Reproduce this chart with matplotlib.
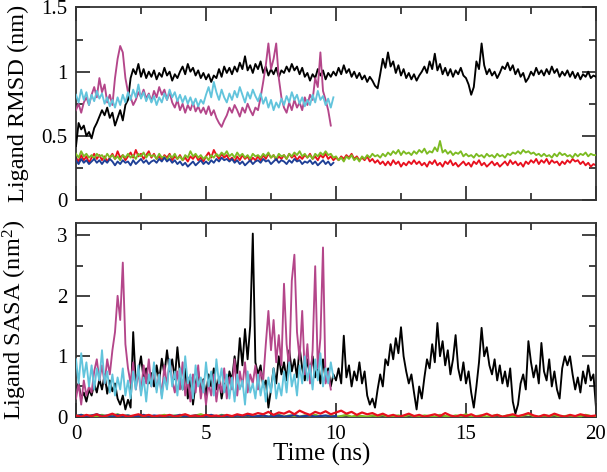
import numpy as np
import matplotlib
matplotlib.use("Agg")
import matplotlib.pyplot as plt
from matplotlib.ticker import MultipleLocator, FixedLocator, FixedFormatter

plt.rcParams['font.family'] = ['Liberation Serif', 'DejaVu Serif']
plt.rcParams['mathtext.fontset'] = 'custom'
plt.rcParams['mathtext.rm'] = 'Liberation Serif'
plt.rcParams['mathtext.it'] = 'Liberation Serif:italic'
plt.rcParams['mathtext.bf'] = 'Liberation Serif:bold'

# ---------------- data ----------------
T_STEP = 0.1        # ns between samples for the main traces
T_STEP_LOW = 0.2    # ns between samples for the near-zero SASA traces

rmsd_black = [
    0.42, 0.60, 0.55, 0.58, 0.50, 0.53, 0.48, 0.56, 0.60, 0.65,
    0.70, 0.66, 0.72, 0.64, 0.68, 0.58, 0.64, 0.70, 0.62, 0.74,
    0.78, 0.95, 1.02, 0.98, 1.06, 0.96, 1.02, 0.95, 1.00, 0.96,
    1.01, 0.94, 0.99, 0.96, 1.03, 0.97, 1.00, 0.93, 0.98, 0.95,
    1.00, 1.04, 0.98, 1.06, 1.00, 1.03, 0.97, 1.01, 0.95, 0.99,
    0.94, 0.98, 0.92, 0.97, 0.95, 1.02, 0.96, 1.04, 0.99, 1.03,
    0.98, 1.04, 1.00, 1.07, 1.02, 1.12, 1.01, 1.05, 0.99, 1.06,
    1.02, 1.08, 0.99, 1.04, 0.97, 1.02, 0.98, 1.03, 0.96, 1.01,
    0.99, 1.04, 1.00, 1.06, 1.01, 1.04, 0.98, 1.03, 0.96, 0.99,
    0.93, 0.98, 0.95, 1.02, 0.97, 1.01, 0.94, 0.99, 0.96, 1.00,
    0.97, 1.03, 0.98, 1.05, 0.99, 1.02, 0.96, 1.00, 0.95, 0.99,
    0.94, 0.97, 0.92, 0.96, 0.93, 0.89, 0.87, 0.98, 1.10, 1.03,
    1.15, 1.04, 1.08, 0.99, 1.05, 0.97, 1.02, 0.95, 0.99, 0.94,
    0.98, 0.93, 0.97, 1.00, 1.04, 0.99, 1.08, 1.02, 1.14, 1.01,
    1.06, 0.98, 1.03, 0.97, 1.02, 0.96, 1.01, 0.98, 1.03, 0.97,
    0.95, 0.90, 0.82, 0.88, 1.08, 1.02, 1.22, 1.05, 0.98, 1.02,
    0.97, 1.00, 0.95, 0.99, 1.04, 1.02, 1.07, 1.01, 1.05, 0.98,
    1.02, 0.96, 0.99, 0.92, 0.95, 1.00, 0.97, 1.03, 0.98, 1.01,
    0.97, 1.02, 0.98, 1.04, 0.99, 1.02, 0.96, 1.00, 0.97, 1.01,
    0.96, 1.00, 0.95, 0.99, 0.94, 0.98, 0.96, 1.00, 0.95, 0.97,
    0.96,
]

rmsd_magenta = [
    0.70, 0.75, 0.68, 0.76, 0.80, 0.74, 0.82, 0.88, 0.80, 0.95,
    0.84, 0.90, 0.76, 0.82, 0.74, 0.95, 1.10, 1.20, 1.15, 0.95,
    0.84, 0.80, 0.74, 0.78, 0.84, 0.80, 0.86, 0.79, 0.83, 0.77,
    0.85, 0.80, 0.88, 0.82, 0.86, 0.78, 0.84, 0.76, 0.72, 0.78,
    0.70, 0.75, 0.68, 0.74, 0.70, 0.76, 0.69, 0.73, 0.68, 0.72,
    0.67, 0.73, 0.66, 0.70, 0.64, 0.60, 0.57, 0.62, 0.66, 0.72,
    0.68, 0.74, 0.70, 0.65, 0.72, 0.68, 0.75, 0.70, 0.66, 0.72,
    0.70, 0.80, 0.92, 1.05, 1.22, 1.02, 1.10, 1.22, 0.95, 0.80,
    0.72, 0.68, 0.76, 0.70, 0.78, 0.72, 0.76, 0.70, 0.80, 0.74,
    0.82, 0.78, 0.95, 0.88, 1.15, 0.85, 0.78, 0.70, 0.58,
]

rmsd_cyan = [
    0.82, 0.76, 0.86, 0.78, 0.84, 0.74, 0.82, 0.77, 0.85, 0.79,
    0.83, 0.75, 0.80, 0.73, 0.78, 0.72, 0.80, 0.74, 0.82, 0.76,
    0.84, 0.78, 0.86, 0.80, 0.90, 0.79, 0.84, 0.77, 0.82, 0.76,
    0.81, 0.74, 0.80, 0.76, 0.83, 0.78, 0.86, 0.80, 0.84, 0.77,
    0.82, 0.76, 0.81, 0.75, 0.80, 0.74, 0.79, 0.73, 0.78, 0.75,
    0.82, 0.88, 0.80, 0.92, 0.84, 0.78, 0.86, 0.80, 0.76, 0.83,
    0.78, 0.85, 0.80, 0.88, 0.82, 0.76, 0.84, 0.79, 0.86, 0.81,
    0.77, 0.83, 0.75, 0.80, 0.72, 0.78, 0.70, 0.76, 0.72, 0.79,
    0.74, 0.81, 0.76, 0.84, 0.78, 0.82, 0.75, 0.80, 0.73, 0.78,
    0.74, 0.82, 0.76, 0.85, 0.78, 0.81, 0.74, 0.79, 0.72, 0.80,
]

rmsd_red = [
    0.33, 0.30, 0.35, 0.31, 0.34, 0.29, 0.33, 0.36, 0.32, 0.35,
    0.31, 0.34, 0.30, 0.33, 0.36, 0.32, 0.38, 0.33, 0.35, 0.31,
    0.34, 0.37, 0.33, 0.39, 0.34, 0.36, 0.32, 0.35, 0.38, 0.33,
    0.36, 0.32, 0.34, 0.31, 0.35, 0.33, 0.36, 0.31, 0.34, 0.32,
    0.35, 0.31, 0.33, 0.30, 0.34, 0.32, 0.35, 0.31, 0.33, 0.30,
    0.34, 0.37, 0.33, 0.39, 0.35, 0.32, 0.36, 0.33, 0.35, 0.31,
    0.33, 0.30, 0.34, 0.31, 0.35, 0.32, 0.34, 0.30, 0.33, 0.31,
    0.34, 0.31, 0.35, 0.32, 0.36, 0.33, 0.35, 0.31, 0.34, 0.32,
    0.35, 0.32, 0.36, 0.33, 0.35, 0.31, 0.34, 0.32, 0.35, 0.33,
    0.36, 0.32, 0.34, 0.31, 0.35, 0.33, 0.36, 0.32, 0.34, 0.31,
    0.33, 0.31, 0.34, 0.32, 0.35, 0.33, 0.36, 0.32, 0.34, 0.31,
    0.33, 0.31, 0.34, 0.30, 0.32, 0.29, 0.31, 0.28, 0.30, 0.27,
    0.30, 0.27, 0.31, 0.28, 0.30, 0.26, 0.29, 0.27, 0.30, 0.28,
    0.31, 0.28, 0.30, 0.27, 0.29, 0.26, 0.30, 0.28, 0.31, 0.27,
    0.29, 0.26, 0.30, 0.28, 0.31, 0.27, 0.29, 0.26, 0.28, 0.30,
    0.27, 0.29, 0.26, 0.30, 0.28, 0.31, 0.27, 0.29, 0.26, 0.28,
    0.30, 0.27, 0.29, 0.26, 0.28, 0.30, 0.27, 0.31, 0.28, 0.30,
    0.27, 0.29, 0.26, 0.30, 0.28, 0.31, 0.29, 0.32, 0.28, 0.31,
    0.29, 0.32, 0.28, 0.31, 0.29, 0.30, 0.27, 0.30, 0.28, 0.31,
    0.29, 0.32, 0.30, 0.31, 0.28, 0.30, 0.27, 0.29, 0.26, 0.28,
    0.27,
]

rmsd_green = [
    0.36, 0.33, 0.38, 0.34, 0.36, 0.33, 0.35, 0.32, 0.36, 0.34,
    0.35, 0.32, 0.36, 0.33, 0.35, 0.32, 0.34, 0.31, 0.35, 0.33,
    0.36, 0.33, 0.35, 0.32, 0.36, 0.34, 0.37, 0.33, 0.36, 0.34,
    0.35, 0.32, 0.36, 0.33, 0.34, 0.31, 0.35, 0.33, 0.36, 0.32,
    0.34, 0.31, 0.35, 0.33, 0.38, 0.34, 0.36, 0.33, 0.35, 0.32,
    0.34, 0.31, 0.35, 0.33, 0.36, 0.34, 0.37, 0.35, 0.38, 0.34,
    0.36, 0.33, 0.37, 0.34, 0.36, 0.33, 0.35, 0.32, 0.36, 0.34,
    0.35, 0.33, 0.36, 0.34, 0.37, 0.33, 0.35, 0.32, 0.36, 0.34,
    0.35, 0.32, 0.36, 0.34, 0.37, 0.35, 0.38, 0.34, 0.36, 0.33,
    0.35, 0.32, 0.36, 0.34, 0.37, 0.35, 0.38, 0.35, 0.36, 0.33,
    0.34, 0.31, 0.33, 0.30, 0.34, 0.32, 0.35, 0.31, 0.33, 0.30,
    0.34, 0.32, 0.35, 0.33, 0.36, 0.34, 0.35, 0.33, 0.36, 0.34,
    0.37, 0.35, 0.38, 0.36, 0.39, 0.35, 0.38, 0.36, 0.37, 0.35,
    0.38, 0.36, 0.39, 0.37, 0.40, 0.36, 0.38, 0.37, 0.41, 0.38,
    0.46, 0.37, 0.39, 0.36, 0.38, 0.35, 0.37, 0.36, 0.38, 0.34,
    0.36, 0.34, 0.35, 0.33, 0.36, 0.34, 0.35, 0.33, 0.36, 0.34,
    0.35, 0.33, 0.36, 0.34, 0.35, 0.33, 0.36, 0.35, 0.37, 0.36,
    0.38, 0.36, 0.39, 0.37, 0.38, 0.36, 0.37, 0.35, 0.36, 0.34,
    0.36, 0.34, 0.35, 0.33, 0.36, 0.34, 0.37, 0.35, 0.36, 0.34,
    0.35, 0.33, 0.36, 0.34, 0.36, 0.35, 0.37, 0.34, 0.36, 0.35,
    0.35,
]

rmsd_blue = [
    0.31, 0.28, 0.32, 0.29, 0.31, 0.28, 0.30, 0.32, 0.29, 0.31,
    0.28, 0.31, 0.29, 0.32, 0.30, 0.27, 0.30, 0.28, 0.31, 0.29,
    0.30, 0.27, 0.31, 0.28, 0.30, 0.32, 0.29, 0.31, 0.28, 0.30,
    0.31, 0.29, 0.32, 0.30, 0.33, 0.30, 0.32, 0.29, 0.31, 0.28,
    0.30, 0.27, 0.29, 0.26, 0.28, 0.30, 0.27, 0.29, 0.31, 0.28,
    0.30, 0.28, 0.31, 0.29, 0.32, 0.30, 0.33, 0.31, 0.32, 0.30,
    0.32, 0.29, 0.31, 0.28, 0.30, 0.27, 0.29, 0.31, 0.28, 0.30,
    0.31, 0.29, 0.32, 0.30, 0.31, 0.28, 0.30, 0.32, 0.29, 0.31,
    0.30, 0.28, 0.31, 0.29, 0.32, 0.30, 0.31, 0.28, 0.30, 0.29,
    0.31, 0.28, 0.30, 0.27, 0.29, 0.31, 0.28, 0.30, 0.27, 0.29,
]

sasa_black = [
    0.48, 0.55, 0.30, 0.40, 0.25, 0.45, 0.35, 0.55, 0.40, 0.62,
    0.45, 0.70, 0.38, 0.60, 0.42, 0.55, 0.30, 0.20, 0.35, 0.12,
    0.28, 0.15, 1.40, 0.55, 0.75, 1.00, 0.62, 0.80, 0.55, 0.72,
    0.50, 0.85, 0.60, 0.96, 0.70, 1.10, 0.75, 0.95, 0.62, 1.15,
    0.70, 0.45, 0.80, 0.30, 0.65, 0.20, 0.55, 0.75, 0.40, 0.62,
    0.35, 0.70, 0.50, 0.80, 0.45, 0.65, 0.30, 0.55, 0.40, 0.75,
    0.60, 1.00, 0.70, 1.30, 0.85, 1.45, 0.95, 1.50, 3.03, 0.90,
    0.70, 0.85, 0.50, 0.60, 0.15, 0.45, 0.80, 0.55, 1.00, 0.70,
    0.90, 0.60, 1.10, 0.75, 0.95, 0.65, 1.15, 0.80, 0.60, 0.95,
    0.70, 1.00, 0.65, 0.85, 0.55, 0.95, 0.60, 0.80, 0.50, 0.70,
    0.60, 0.80, 0.55, 1.34, 0.65, 0.85, 0.50, 0.75, 0.60, 0.90,
    0.55, 0.75, 0.35, 0.20, 0.30, 0.15, 0.45, 0.70, 0.50, 0.95,
    0.85, 1.20, 0.95, 1.30, 1.05, 1.48, 1.00, 0.75, 0.55, 0.70,
    0.40, 0.12, 0.50, 0.30, 0.65, 0.95, 0.80, 1.20, 0.90, 1.55,
    1.00, 1.25, 0.85, 1.10, 0.70, 0.95, 1.35, 0.80, 0.60, 0.90,
    0.55, 0.75, 0.40, 0.15, 0.50, 0.90, 1.47, 1.00, 1.15, 0.85,
    0.70, 0.95, 0.60, 0.85, 0.55, 0.75, 0.50, 0.80, 0.25, 0.05,
    0.20, 0.55, 0.70, 0.45, 1.25, 0.90, 0.65, 0.85, 0.55, 1.22,
    0.75, 0.60, 0.95, 0.50, 0.75, 0.45, 0.30, 0.80, 1.00, 0.85,
    1.00, 0.70, 0.45, 0.65, 0.40, 0.75, 0.55, 0.85, 0.60, 0.70,
    0.15,
]

sasa_magenta = [
    0.30, 0.55, 0.20, 0.60, 0.35, 0.50, 0.40, 0.75, 0.95, 0.60,
    0.85, 0.55, 0.95, 0.70, 1.10, 1.40, 2.00, 1.60, 2.55, 1.20,
    0.80, 0.55, 0.90, 0.45, 0.75, 0.40, 0.85, 0.55, 0.95, 0.50,
    0.80, 0.45, 0.70, 0.35, 0.85, 0.50, 0.95, 0.60, 0.40, 0.75,
    0.45, 0.90, 0.35, 0.65, 0.25, 0.70, 0.40, 0.85, 0.30, 0.60,
    0.20, 0.55, 0.35, 0.70, 0.25, 0.60, 0.40, 0.80, 0.30, 0.65,
    0.45, 0.95, 0.35, 0.75, 0.50, 0.90, 0.40, 0.70, 0.55, 0.85,
    0.45, 0.75, 0.60, 1.20, 1.75, 1.10, 1.60, 0.90, 1.35, 0.85,
    2.20, 1.20, 0.80, 2.25, 2.68, 1.40, 0.95, 1.75, 0.70, 1.20,
    0.55, 1.10, 2.49, 0.80, 1.30, 2.80, 0.55, 0.75, 0.45,
]

sasa_cyan = [
    0.95, 0.55, 1.05, 0.65, 0.90, 0.50, 0.85, 0.45, 0.80, 0.60,
    1.10, 0.55, 0.75, 0.40, 0.70, 0.35, 0.65, 0.45, 0.80, 0.35,
    0.60, 0.30, 0.75, 0.45, 0.85, 0.35, 0.65, 0.25, 0.70, 0.50,
    0.90, 0.40, 0.70, 0.30, 0.65, 0.45, 0.95, 0.50, 0.75, 0.35,
    0.80, 0.45, 1.00, 0.55, 0.70, 0.30, 0.85, 0.50, 0.65, 0.40,
    0.90, 0.50, 0.75, 0.35, 0.95, 0.55, 0.80, 0.40, 0.70, 0.30,
    0.65, 0.25, 0.70, 0.45, 0.60, 0.20, 0.75, 0.40, 0.55, 0.30,
    0.70, 0.35, 0.60, 0.25, 0.65, 0.40, 0.80, 0.30, 0.55, 0.35,
    0.75, 0.40, 0.90, 0.50, 0.70, 0.35, 0.85, 0.55, 1.00, 0.60,
    0.85, 0.45, 0.95, 0.60, 1.05, 0.50, 0.80, 0.55, 0.90, 0.65,
]

sasa_red = [
    0.02, 0.00, 0.03, 0.01, 0.04, 0.00, 0.02, 0.05, 0.01, 0.03,
    0.00, 0.02, 0.04, 0.01, 0.03, 0.00, 0.02, 0.01, 0.03, 0.00,
    0.02, 0.04, 0.01, 0.02, 0.00, 0.03, 0.01, 0.02, 0.00, 0.03,
    0.01, 0.04, 0.02, 0.05, 0.03, 0.06, 0.04, 0.08, 0.03, 0.07,
    0.05, 0.09, 0.04, 0.10, 0.06, 0.03, 0.08, 0.05, 0.09, 0.04,
    0.07, 0.10, 0.05, 0.08, 0.03, 0.07, 0.04, 0.06, 0.02, 0.05,
    0.01, 0.03, 0.00, 0.02, 0.05, 0.01, 0.03, 0.00, 0.02, 0.04,
    0.01, 0.06, 0.02, 0.00, 0.03, 0.01, 0.04, 0.00, 0.02, 0.05,
    0.01, 0.03, 0.00, 0.02, 0.04, 0.01, 0.03, 0.06, 0.02, 0.00,
    0.03, 0.01, 0.05, 0.02, 0.00, 0.03, 0.01, 0.04, 0.02, 0.01,
    0.02,
]

sasa_green = [
    0.01, 0.03, 0.00, 0.02, 0.01, 0.03, 0.00, 0.02, 0.04, 0.01,
    0.02, 0.00, 0.03, 0.01, 0.02, 0.00, 0.01, 0.03, 0.00, 0.02,
    0.01, 0.03, 0.00, 0.02, 0.04, 0.01, 0.02, 0.00, 0.03, 0.01,
    0.00, 0.02, 0.01, 0.03, 0.00, 0.01, 0.02, 0.00, 0.01, 0.03,
    0.00, 0.02, 0.01, 0.00, 0.02, 0.01, 0.03, 0.00, 0.01, 0.02,
    0.00, 0.01, 0.03, 0.00, 0.02, 0.01, 0.00, 0.02, 0.01, 0.03,
    0.00, 0.01, 0.02, 0.00, 0.03, 0.01, 0.00, 0.02, 0.01, 0.00,
    0.03, 0.01, 0.00, 0.02, 0.01, 0.04, 0.00, 0.01, 0.02, 0.00,
    0.01, 0.03, 0.00, 0.02, 0.01, 0.00, 0.02, 0.04, 0.01, 0.00,
    0.02, 0.01, 0.03, 0.00, 0.01, 0.02, 0.00, 0.01, 0.03, 0.01,
    0.00,
]

sasa_blue = [
    0.01, 0.03, 0.00, 0.02, 0.04, 0.01, 0.02, 0.00, 0.03, 0.01,
    0.02, 0.00, 0.01, 0.03, 0.00, 0.02, 0.01, 0.00, 0.02, 0.01,
    0.03, 0.00, 0.01, 0.02, 0.00, 0.01, 0.03, 0.00, 0.02, 0.01,
    0.00, 0.02, 0.01, 0.03, 0.00, 0.01, 0.02, 0.00, 0.01, 0.02,
    0.00, 0.01, 0.03, 0.00, 0.01, 0.02, 0.00, 0.01, 0.02, 0.00,
    0.01,
]

x_ticks = [0, 5, 10, 15, 20]
x_ticklabels = ["0", "5", "10", "15", "20"]
rmsd_ticks = [0, 0.5, 1.0, 1.5]
rmsd_ticklabels = ["0", "0.5", "1", "1.5"]
sasa_ticks = [0, 1, 2, 3]
sasa_ticklabels = ["0", "1", "2", "3"]

C_BLACK = "#000000"
C_MAGENTA = "#b4468a"
C_CYAN = "#62c4dc"
C_RED = "#e8101e"
C_GREEN = "#7cbb22"
C_BLUE = "#1e3f96"


def tgrid(vals, step):
    return np.arange(len(vals)) * step


# ---------------- figure ----------------
W, H = 607, 472
fig = plt.figure(figsize=(W / 100, H / 100), dpi=100)
L, R = 76 / W, 596 / W
ax1 = fig.add_axes([L, (H - 200) / H, R - L, 192.5 / H])
ax2 = fig.add_axes([L, (H - 416.7) / H, R - L, 193.4 / H])

lw = 1.35
lw_low = 1.6
ax1.plot(tgrid(rmsd_red, T_STEP), rmsd_red, color=C_RED, lw=lw, zorder=2)
ax1.plot(tgrid(rmsd_green, T_STEP), rmsd_green, color=C_GREEN, lw=lw, zorder=3)
ax1.plot(tgrid(rmsd_blue, T_STEP), rmsd_blue, color=C_BLUE, lw=lw, zorder=4)
ax1.plot(tgrid(rmsd_black, T_STEP), rmsd_black, color=C_BLACK, lw=lw, zorder=5)
ax1.plot(tgrid(rmsd_magenta, T_STEP), rmsd_magenta, color=C_MAGENTA, lw=lw, zorder=6)
ax1.plot(tgrid(rmsd_cyan, T_STEP), rmsd_cyan, color=C_CYAN, lw=lw, zorder=7)

ax2.plot(tgrid(sasa_black, T_STEP), sasa_black, color=C_BLACK, lw=lw, zorder=2)
ax2.plot(tgrid(sasa_magenta, T_STEP), sasa_magenta, color=C_MAGENTA, lw=lw, zorder=3)
ax2.plot(tgrid(sasa_cyan, T_STEP), sasa_cyan, color=C_CYAN, lw=lw, zorder=4)
ax2.plot(tgrid(sasa_green, T_STEP_LOW), sasa_green, color=C_GREEN, lw=lw_low, zorder=5)
ax2.plot(tgrid(sasa_blue, T_STEP_LOW), sasa_blue, color=C_BLUE, lw=lw_low, zorder=6)
ax2.plot(tgrid(sasa_red, T_STEP_LOW), sasa_red, color=C_RED, lw=lw_low, zorder=7)

for ax in (ax1, ax2):
    ax.set_xlim(0, 20)
    ax.xaxis.set_major_locator(FixedLocator(x_ticks))
    ax.xaxis.set_minor_locator(MultipleLocator(2.5))
    ax.tick_params(which='both', direction='in', top=True, right=True,
                   colors='#222222', labelsize=15, width=1.2, pad=6)
    ax.tick_params(which='major', length=10)
    ax.tick_params(which='minor', length=5)
    for s in ax.spines.values():
        s.set_linewidth(1.3)
        s.set_color('#333333')

ax1.set_ylim(0, 1.5)
ax1.yaxis.set_major_locator(FixedLocator(rmsd_ticks))
ax1.yaxis.set_major_formatter(FixedFormatter(rmsd_ticklabels))
ax1.yaxis.set_minor_locator(MultipleLocator(0.25))
ax1.tick_params(labelbottom=False)

ax2.set_ylim(0, 3.2)
ax2.yaxis.set_major_locator(FixedLocator(sasa_ticks))
ax2.yaxis.set_major_formatter(FixedFormatter(sasa_ticklabels))
ax2.yaxis.set_minor_locator(MultipleLocator(0.5))
ax2.xaxis.set_major_formatter(FixedFormatter(x_ticklabels))

for ax in (ax1, ax2):
    for lab in ax.get_yticklabels() + ax.get_xticklabels():
        lab.set_color('black')

ax1.set_ylabel("Ligand RMSD (nm)", fontsize=17.5)
ax2.set_ylabel(r"Ligand SASA (nm$^{2}$)", fontsize=17.5)
ax1.yaxis.set_label_coords(-0.09, 0.5)
ax2.yaxis.set_label_coords(-0.09, 0.5)
ax2.set_xlabel("Time (ns)", fontsize=18)
ax2.xaxis.set_label_coords(0.473, -0.135)

fig.savefig("out.png", dpi=100)
